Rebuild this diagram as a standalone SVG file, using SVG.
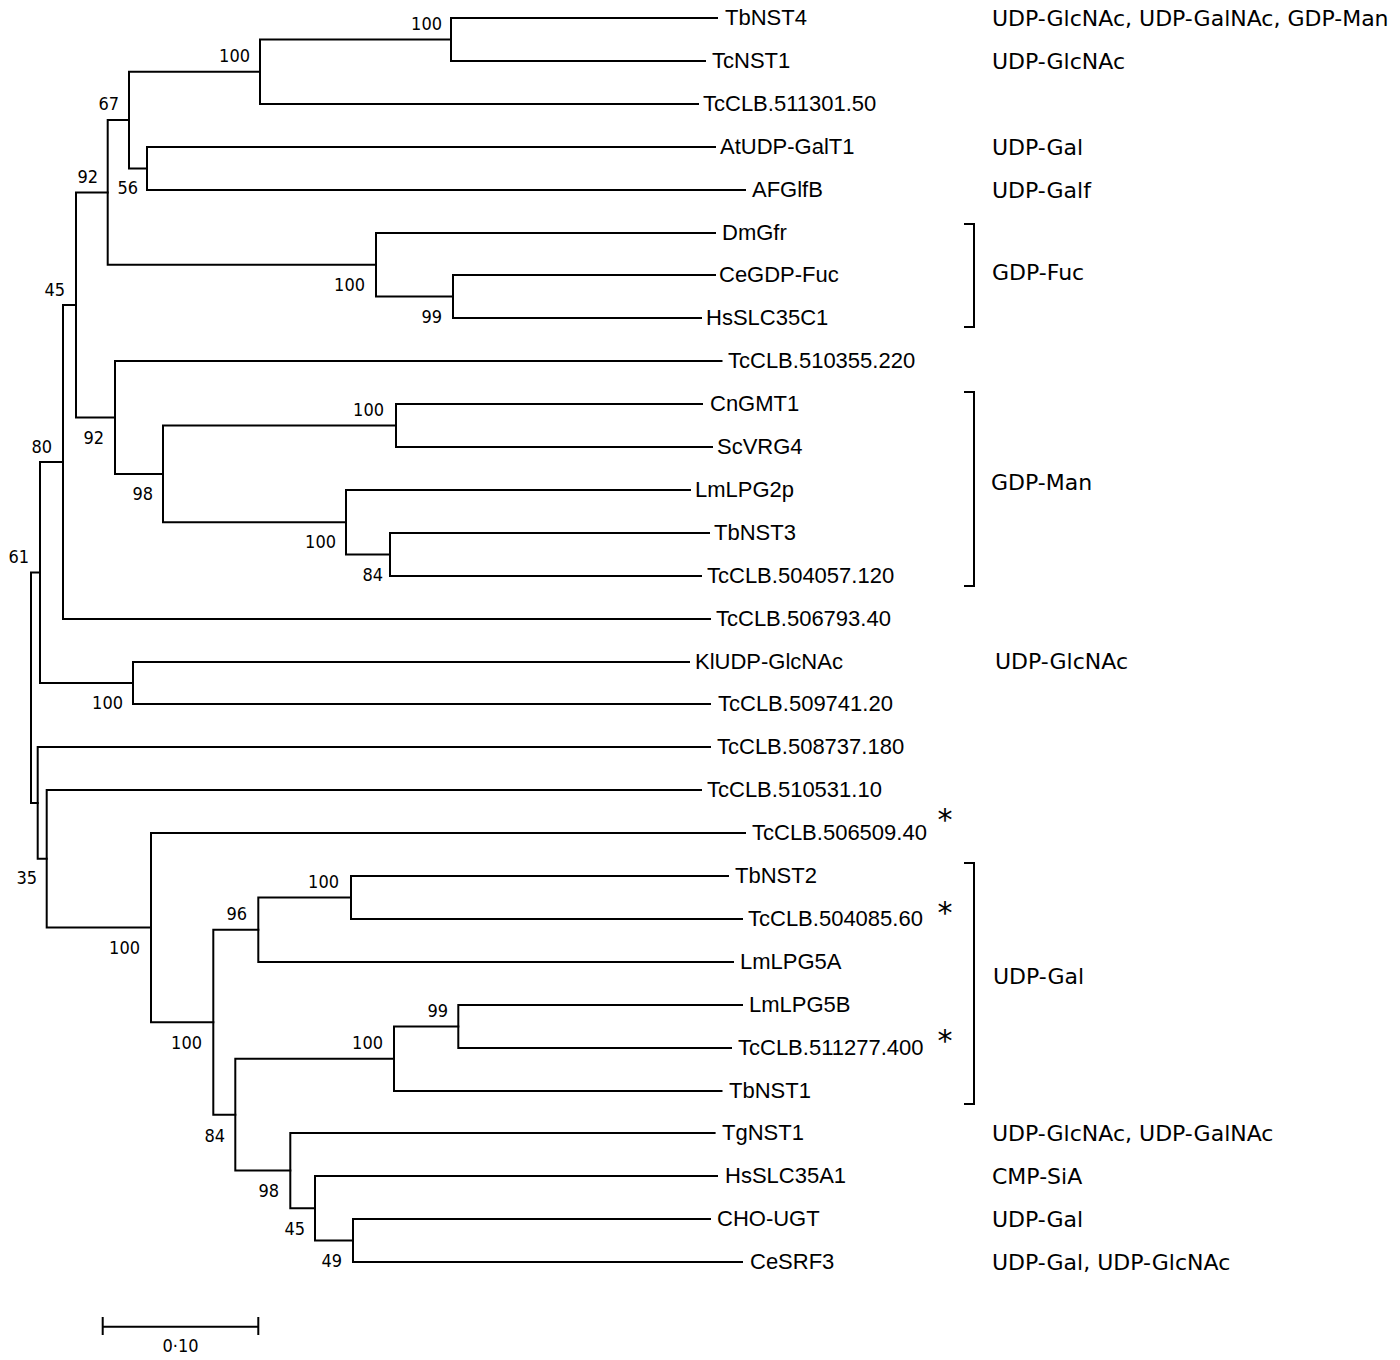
<svg xmlns="http://www.w3.org/2000/svg" width="1400" height="1360" viewBox="0 0 1400 1360">
<style>
.br{fill:none;stroke:#000;stroke-width:2;stroke-linecap:square;stroke-linejoin:miter}
.bk{fill:none;stroke:#000;stroke-width:2}
.leaf{font-family:"Liberation Sans",Arial,sans-serif;font-size:22px;fill:#000}
.sub{font-family:"DejaVu Sans",Verdana,sans-serif;font-size:22px;fill:#000}
.bs{font-family:"DejaVu Sans Condensed","DejaVu Sans",Verdana,sans-serif;font-stretch:condensed;font-size:18px;fill:#000;text-anchor:end}
.ast{font-family:"DejaVu Sans",sans-serif;font-size:30px;fill:#000;text-anchor:middle}
</style>
<rect width="1400" height="1360" fill="#fff"/>
<g id="connectors">
<path class="br" d="M717,18 H451 V61 H705"/>
<path class="br" d="M451,39.5 H260 V104 H698"/>
<path class="br" d="M715,147 H147 V190 H745"/>
<path class="br" d="M260,71.75 H129 V168.5 H147"/>
<path class="br" d="M715,275 H453 V318 H701"/>
<path class="br" d="M715,233 H376 V296.5 H453"/>
<path class="br" d="M129,120.1 H107.7 V264.75 H376"/>
<path class="br" d="M702,404 H396 V447 H712"/>
<path class="br" d="M709,533 H390 V576 H701"/>
<path class="br" d="M690,490 H346 V554.5 H390"/>
<path class="br" d="M396,425.5 H163 V522.25 H346"/>
<path class="br" d="M721.5,361 H115 V473.9 H163"/>
<path class="br" d="M107.7,192.4 H76 V417.4 H115"/>
<path class="br" d="M76,304.9 H63 V619 H710"/>
<path class="br" d="M689,662 H133 V704 H710"/>
<path class="br" d="M63,461.9 H40 V683 H133"/>
<path class="br" d="M728,876 H351 V919 H742"/>
<path class="br" d="M351,897.5 H258.3 V962 H733"/>
<path class="br" d="M742,1005 H458.3 V1048 H731"/>
<path class="br" d="M458.3,1026.5 H394 V1091 H721.5"/>
<path class="br" d="M710,1219 H353 V1262 H742"/>
<path class="br" d="M717,1176 H315 V1240.5 H353"/>
<path class="br" d="M714.6,1133 H290.3 V1208.25 H315"/>
<path class="br" d="M394,1058.75 H235.3 V1170.6 H290.3"/>
<path class="br" d="M258.3,929.75 H213.3 V1114.7 H235.3"/>
<path class="br" d="M745,833 H151 V1022.2 H213.3"/>
<path class="br" d="M701,790 H46.7 V927.6 H151"/>
<path class="br" d="M710,747 H37.7 V858.8 H46.7"/>
<path class="br" d="M40,572.5 H31 V802.9 H37.7"/>
</g>
<g id="bootstrap">
<text class="bs" x="442" y="30">100</text>
<text class="bs" x="250" y="62">100</text>
<text class="bs" x="119" y="110">67</text>
<text class="bs" x="138" y="194">56</text>
<text class="bs" x="98" y="183">92</text>
<text class="bs" x="365" y="291">100</text>
<text class="bs" x="442" y="323">99</text>
<text class="bs" x="65" y="296">45</text>
<text class="bs" x="52" y="453">80</text>
<text class="bs" x="104" y="444">92</text>
<text class="bs" x="384" y="416">100</text>
<text class="bs" x="153" y="500">98</text>
<text class="bs" x="336" y="548">100</text>
<text class="bs" x="29" y="563">61</text>
<text class="bs" x="383" y="581">84</text>
<text class="bs" x="123" y="709">100</text>
<text class="bs" x="37" y="884">35</text>
<text class="bs" x="140" y="954">100</text>
<text class="bs" x="247" y="920">96</text>
<text class="bs" x="339" y="888">100</text>
<text class="bs" x="202" y="1049">100</text>
<text class="bs" x="383" y="1049">100</text>
<text class="bs" x="448" y="1017">99</text>
<text class="bs" x="225" y="1142">84</text>
<text class="bs" x="279" y="1197">98</text>
<text class="bs" x="305" y="1235">45</text>
<text class="bs" x="342" y="1267">49</text>
</g>
<g id="leaf-TbNST4"><text class="leaf" x="725" y="25">TbNST4</text></g>
<g id="leaf-TcNST1"><text class="leaf" x="712" y="68">TcNST1</text></g>
<g id="leaf-TcCLB511301"><text class="leaf" x="703" y="111">TcCLB.511301.50</text></g>
<g id="leaf-AtUDP"><text class="leaf" x="720" y="154">AtUDP-GalT1</text></g>
<g id="leaf-AFGlfB"><text class="leaf" x="752" y="197">AFGlfB</text></g>
<g id="leaf-DmGfr"><text class="leaf" x="722" y="240">DmGfr</text></g>
<g id="leaf-CeGDP"><text class="leaf" x="719" y="282">CeGDP-Fuc</text></g>
<g id="leaf-HsSLC35C1"><text class="leaf" x="706" y="325">HsSLC35C1</text></g>
<g id="leaf-TcCLB510355"><text class="leaf" x="728" y="368">TcCLB.510355.220</text></g>
<g id="leaf-CnGMT1"><text class="leaf" x="710" y="411">CnGMT1</text></g>
<g id="leaf-ScVRG4"><text class="leaf" x="717" y="454">ScVRG4</text></g>
<g id="leaf-LmLPG2p"><text class="leaf" x="695" y="497">LmLPG2p</text></g>
<g id="leaf-TbNST3"><text class="leaf" x="714" y="540">TbNST3</text></g>
<g id="leaf-TcCLB504057"><text class="leaf" x="707" y="583">TcCLB.504057.120</text></g>
<g id="leaf-TcCLB506793"><text class="leaf" x="716" y="626">TcCLB.506793.40</text></g>
<g id="leaf-KlUDP"><text class="leaf" x="695" y="669">KlUDP-GlcNAc</text></g>
<g id="leaf-TcCLB509741"><text class="leaf" x="718" y="711">TcCLB.509741.20</text></g>
<g id="leaf-TcCLB508737"><text class="leaf" x="717" y="754">TcCLB.508737.180</text></g>
<g id="leaf-TcCLB510531"><text class="leaf" x="707" y="797">TcCLB.510531.10</text></g>
<g id="leaf-TcCLB506509"><text class="leaf" x="752" y="840">TcCLB.506509.40</text><text class="ast" x="945" y="830">*</text></g>
<g id="leaf-TbNST2"><text class="leaf" x="735" y="883">TbNST2</text></g>
<g id="leaf-TcCLB504085"><text class="leaf" x="748" y="926">TcCLB.504085.60</text><text class="ast" x="945" y="923">*</text></g>
<g id="leaf-LmLPG5A"><text class="leaf" x="740" y="969">LmLPG5A</text></g>
<g id="leaf-LmLPG5B"><text class="leaf" x="749" y="1012">LmLPG5B</text></g>
<g id="leaf-TcCLB511277"><text class="leaf" x="738" y="1055">TcCLB.511277.400</text><text class="ast" x="945" y="1051">*</text></g>
<g id="leaf-TbNST1"><text class="leaf" x="729" y="1098">TbNST1</text></g>
<g id="leaf-TgNST1"><text class="leaf" x="722" y="1140">TgNST1</text></g>
<g id="leaf-HsSLC35A1"><text class="leaf" x="725" y="1183">HsSLC35A1</text></g>
<g id="leaf-CHO-UGT"><text class="leaf" x="717" y="1226">CHO-UGT</text></g>
<g id="leaf-CeSRF3"><text class="leaf" x="750" y="1269">CeSRF3</text></g>
<g id="substrates">
<text class="sub" x="992" y="26">UDP-GlcNAc, UDP-GalNAc, GDP-Man</text>
<text class="sub" x="992" y="69">UDP-GlcNAc</text>
<text class="sub" x="992" y="155">UDP-Gal</text>
<text class="sub" x="992" y="198">UDP-Galf</text>
<text class="sub" x="992" y="280">GDP-Fuc</text>
<text class="sub" x="991" y="490">GDP-Man</text>
<text class="sub" x="995" y="669">UDP-GlcNAc</text>
<text class="sub" x="993" y="984">UDP-Gal</text>
<text class="sub" x="992" y="1141">UDP-GlcNAc, UDP-GalNAc</text>
<text class="sub" x="992" y="1184">CMP-SiA</text>
<text class="sub" x="992" y="1227">UDP-Gal</text>
<text class="sub" x="992" y="1270">UDP-Gal, UDP-GlcNAc</text>
</g>
<g id="brackets">
<path class="bk" d="M964,224 H974 V327 H964"/>
<path class="bk" d="M964,392 H974 V586 H964"/>
<path class="bk" d="M964,863 H974 V1104 H964"/>
</g>
<g id="scale">
<path class="br" d="M102.7,1326.7 H258.3 M102.7,1318 V1334 M258.3,1318 V1334"/>
<text class="bs" x="180.5" y="1352" style="text-anchor:middle">0·10</text>
</g>
</svg>
